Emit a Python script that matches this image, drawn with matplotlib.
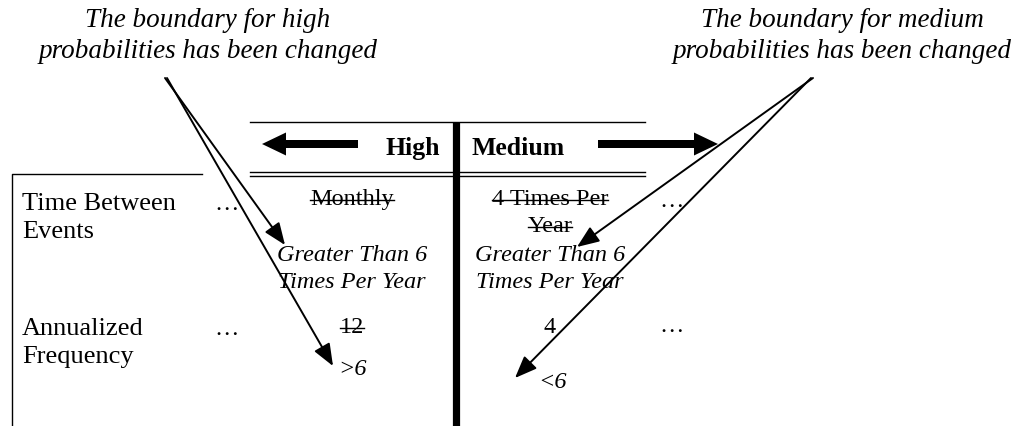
import matplotlib
matplotlib.use('Agg')
import matplotlib.pyplot as plt
from matplotlib.patches import FancyArrow

# texts of the diagram
note_high = ["The boundary for high", "probabilities has been changed"]
note_medium = ["The boundary for medium", "probabilities has been changed"]
headers = ["High", "Medium"]
row_labels = [["Time Between", "Events"], ["Annualized", "Frequency"]]
high_old = [["Monthly"], ["12"]]
high_new = [["Greater Than 6", "Times Per Year"], [">6"]]
medium_old = [["4 Times Per", "Year"], ["4"]]
medium_new = [["Greater Than 6", "Times Per Year"], ["<6"]]
ellipsis = "\u2026"

W, H = 1021, 426
plt.rcParams['font.family'] = ['Liberation Serif', 'DejaVu Serif']
FS_NOTE = 19.5
FS_LABEL = 19
FS_CELL = 17.5

fig = plt.figure(figsize=(W / 100, H / 100), dpi=100)
ax = fig.add_axes([0, 0, 1, 1])
ax.set_xlim(0, W)
ax.set_ylim(H, 0)
ax.axis('off')

struck = []


def put(x, y, s, strike=False, **kw):
    kw.setdefault('ha', 'center')
    kw.setdefault('fontsize', FS_CELL)
    t = ax.text(x, y, s, va='baseline', **kw)
    if strike:
        struck.append(t)
    return t


# annotations at the top
for i, s in enumerate(note_high):
    put(208, 27 + 31 * i, s, style='italic', fontsize=FS_NOTE)
for i, s in enumerate(note_medium):
    put(842, 27 + 31 * i, s, style='italic', fontsize=FS_NOTE)

# header band
ax.plot([250, 645], [122, 122], color='black', lw=1)
ax.plot([250, 645], [172, 172], color='black', lw=1)
ax.plot([250, 645], [176, 176], color='black', lw=1)
ax.plot([455.5, 455.5], [122, H], color='black', lw=5.2, solid_capstyle='butt')
put(440, 155, headers[0], ha='right', weight='bold', fontsize=18.5)
put(471, 155, headers[1], ha='left', weight='bold', fontsize=18.5)
ax.add_patch(FancyArrow(358, 144, 262 - 358, 0, width=8, head_width=23, head_length=24,
                        length_includes_head=True, color='black', lw=0))
ax.add_patch(FancyArrow(598, 144, 718 - 598, 0, width=8, head_width=23, head_length=24,
                        length_includes_head=True, color='black', lw=0))

# left frame
ax.plot([202, 12, 12], [174, 174, H], color='black', lw=1)

# rows
row_y = [210, 335]
for r, y0 in enumerate(row_y):
    for i, s in enumerate(row_labels[r]):
        put(22, y0 + 28 * i, s, ha='left', fontsize=FS_LABEL)
    put(227, y0, ellipsis)
    put(672, y0 - 3, ellipsis)

for i, s in enumerate(high_old[0]):
    put(352, 205 + 27 * i, s, strike=True)
for i, s in enumerate(high_new[0]):
    put(352, 261 + 27 * i, s, style='italic')
put(352, 333, high_old[1][0], strike=True)
put(352, 375, high_new[1][0], style='italic')

for i, s in enumerate(medium_old[0]):
    put(550, 205 + 27 * i, s, strike=True)
for i, s in enumerate(medium_new[0]):
    put(550, 261 + 27 * i, s, style='italic')
put(550, 333, medium_old[1][0])
put(552, 388, medium_new[1][0], style='italic')

# pointer arrows
aprops = dict(arrowstyle='-|>,head_length=0.75,head_width=0.3', lw=1.4, color='black',
              shrinkA=0, shrinkB=0, mutation_scale=18)
for start, tip in [((165, 78), (285, 245)), ((167, 78), (333, 366)),
                   ((813, 78), (577, 247)), ((811, 78), (515, 378))]:
    ax.annotate('', xy=tip, xytext=start, xycoords='data', arrowprops=aprops)

# strike-through lines
fig.canvas.draw()
r = fig.canvas.get_renderer()
inv = ax.transData.inverted()
for t in struck:
    bb = t.get_window_extent(r)
    (x0, _), (x1, _) = inv.transform([(bb.x0, 0), (bb.x1, 0)])
    yb = t.get_position()[1]
    ax.plot([x0, x1], [yb - 5.5, yb - 5.5], color='black', lw=1)

fig.savefig('out.png', dpi=100)
